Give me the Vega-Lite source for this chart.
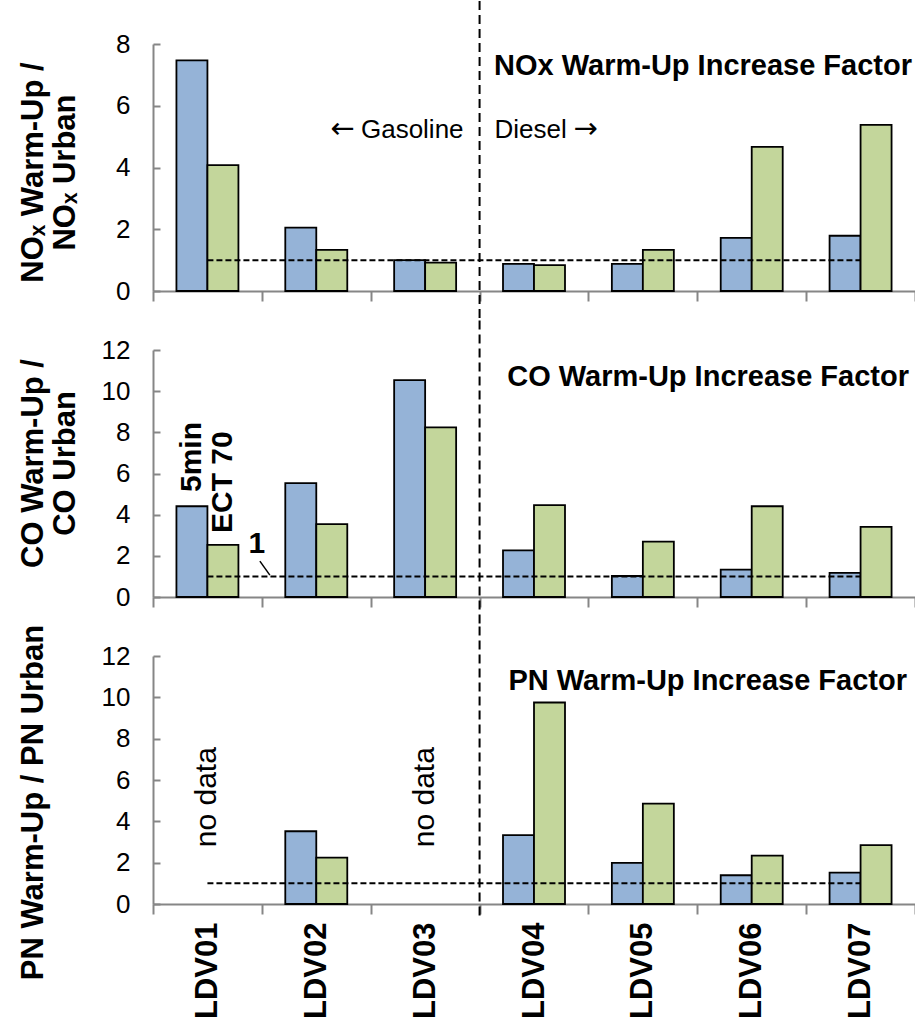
{
  "$schema": "https://vega.github.io/schema/vega-lite/v6.json",
  "padding": {"left": 16, "top": 0, "right": 0, "bottom": 0},
  "background": "#ffffff",
  "datasets": {
    "bars": [
      {"panel": "NOx", "ldv": "LDV01", "cond": "5min", "v": 7.47},
      {"panel": "NOx", "ldv": "LDV01", "cond": "ECT 70", "v": 4.08},
      {"panel": "NOx", "ldv": "LDV02", "cond": "5min", "v": 2.05},
      {"panel": "NOx", "ldv": "LDV02", "cond": "ECT 70", "v": 1.33},
      {"panel": "NOx", "ldv": "LDV03", "cond": "5min", "v": 1.0},
      {"panel": "NOx", "ldv": "LDV03", "cond": "ECT 70", "v": 0.92},
      {"panel": "NOx", "ldv": "LDV04", "cond": "5min", "v": 0.88},
      {"panel": "NOx", "ldv": "LDV04", "cond": "ECT 70", "v": 0.84},
      {"panel": "NOx", "ldv": "LDV05", "cond": "5min", "v": 0.88},
      {"panel": "NOx", "ldv": "LDV05", "cond": "ECT 70", "v": 1.33},
      {"panel": "NOx", "ldv": "LDV06", "cond": "5min", "v": 1.72},
      {"panel": "NOx", "ldv": "LDV06", "cond": "ECT 70", "v": 4.67},
      {"panel": "NOx", "ldv": "LDV07", "cond": "5min", "v": 1.79},
      {"panel": "NOx", "ldv": "LDV07", "cond": "ECT 70", "v": 5.38},
      {"panel": "CO", "ldv": "LDV01", "cond": "5min", "v": 4.41},
      {"panel": "CO", "ldv": "LDV01", "cond": "ECT 70", "v": 2.53},
      {"panel": "CO", "ldv": "LDV02", "cond": "5min", "v": 5.53},
      {"panel": "CO", "ldv": "LDV02", "cond": "ECT 70", "v": 3.54},
      {"panel": "CO", "ldv": "LDV03", "cond": "5min", "v": 10.54},
      {"panel": "CO", "ldv": "LDV03", "cond": "ECT 70", "v": 8.24},
      {"panel": "CO", "ldv": "LDV04", "cond": "5min", "v": 2.27},
      {"panel": "CO", "ldv": "LDV04", "cond": "ECT 70", "v": 4.46},
      {"panel": "CO", "ldv": "LDV05", "cond": "5min", "v": 1.02},
      {"panel": "CO", "ldv": "LDV05", "cond": "ECT 70", "v": 2.69},
      {"panel": "CO", "ldv": "LDV06", "cond": "5min", "v": 1.33},
      {"panel": "CO", "ldv": "LDV06", "cond": "ECT 70", "v": 4.41},
      {"panel": "CO", "ldv": "LDV07", "cond": "5min", "v": 1.17},
      {"panel": "CO", "ldv": "LDV07", "cond": "ECT 70", "v": 3.41},
      {"panel": "PN", "ldv": "LDV02", "cond": "5min", "v": 3.52},
      {"panel": "PN", "ldv": "LDV02", "cond": "ECT 70", "v": 2.24},
      {"panel": "PN", "ldv": "LDV04", "cond": "5min", "v": 3.33},
      {"panel": "PN", "ldv": "LDV04", "cond": "ECT 70", "v": 9.75},
      {"panel": "PN", "ldv": "LDV05", "cond": "5min", "v": 1.99},
      {"panel": "PN", "ldv": "LDV05", "cond": "ECT 70", "v": 4.86},
      {"panel": "PN", "ldv": "LDV06", "cond": "5min", "v": 1.39},
      {"panel": "PN", "ldv": "LDV06", "cond": "ECT 70", "v": 2.34},
      {"panel": "PN", "ldv": "LDV07", "cond": "5min", "v": 1.52},
      {"panel": "PN", "ldv": "LDV07", "cond": "ECT 70", "v": 2.85}
    ]
  },
  "spacing": 59,
  "bounds": "flush",
  "vconcat": [
    {
      "width": 762,
      "height": 247,
      "layer": [
        {
          "data": {"name": "bars"},
          "transform": [{"filter": "datum.panel === 'NOx'"}],
          "mark": {"type": "bar", "stroke": "#000000", "strokeWidth": 1.8},
          "encoding": {
            "x": {"field": "ldv", "type": "nominal", "scale": {"domain": ["LDV01", "LDV02", "LDV03", "LDV04", "LDV05", "LDV06", "LDV07"], "paddingInner": 0, "paddingOuter": 0}, "axis": {"title": null, "labels": false, "tickBand": "extent", "tickSize": 10}},
            "xOffset": {"field": "cond", "type": "nominal", "scale": {"domain": ["5min", "ECT 70"], "paddingInner": 0, "paddingOuter": 0.756}},
            "y": {"field": "v", "type": "quantitative", "scale": {"domain": [0, 8], "nice": false}, "axis": {"title": ["NOₓ Warm-Up /", "NOₓ Urban"], "values": [0, 2, 4, 6, 8], "tickSize": -7, "labelPadding": 30, "titleX": -135, "titleY": 128, "titleAngle": 270, "titleAlign": "center", "titleBaseline": "top", "titleLineHeight": 32}},
            "color": {"field": "cond", "type": "nominal", "scale": {"domain": ["5min", "ECT 70"], "range": ["#95B3D7", "#C3D69B"]}, "legend": null}
          }
        },
        {
          "data": {"values": [{"ldv": "LDV01", "ldv2": "LDV07", "v": 1}]},
          "mark": {"type": "rule", "strokeDash": [6, 3], "strokeWidth": 2, "color": "#000000"},
          "encoding": {"x": {"field": "ldv", "type": "nominal", "bandPosition": 0.5}, "x2": {"field": "ldv2", "bandPosition": 0.5}, "y": {"field": "v", "type": "quantitative"}}
        },
        {
          "data": {"values": [{"ldv": "LDV04", "v": 9.39, "v2": -0.96}]},
          "mark": {"type": "rule", "strokeDash": [9, 5], "strokeWidth": 2, "color": "#000000"},
          "encoding": {"x": {"field": "ldv", "type": "nominal", "bandPosition": 0}, "y": {"field": "v", "type": "quantitative"}, "y2": {"field": "v2"}}
        },
        {
          "data": {"values": [{"ldv": "LDV07", "v": 7.0, "label": "NOx Warm-Up Increase Factor"}]},
          "mark": {"type": "text", "align": "right", "baseline": "alphabetic", "fontSize": 29, "fontWeight": "bold", "dx": -3},
          "encoding": {"x": {"field": "ldv", "type": "nominal", "bandPosition": 1}, "y": {"field": "v", "type": "quantitative"}, "text": {"field": "label"}}
        },
        {
          "data": {"values": [{"ldv": "LDV04", "v": 4.97, "label": "Gasoline"}]},
          "mark": {"type": "text", "align": "right", "baseline": "alphabetic", "fontSize": 26, "dx": -16},
          "encoding": {"x": {"field": "ldv", "type": "nominal", "bandPosition": 0}, "y": {"field": "v", "type": "quantitative"}, "text": {"field": "label"}}
        },
        {
          "data": {"values": [{"ldv": "LDV04", "v": 4.97, "label": "←"}]},
          "mark": {"type": "text", "align": "right", "baseline": "alphabetic", "font": "DejaVu Sans", "fontSize": 29, "dx": -125},
          "encoding": {"x": {"field": "ldv", "type": "nominal", "bandPosition": 0}, "y": {"field": "v", "type": "quantitative"}, "text": {"field": "label"}}
        },
        {
          "data": {"values": [{"ldv": "LDV04", "v": 4.97, "label": "Diesel"}]},
          "mark": {"type": "text", "align": "left", "baseline": "alphabetic", "fontSize": 26, "dx": 15},
          "encoding": {"x": {"field": "ldv", "type": "nominal", "bandPosition": 0}, "y": {"field": "v", "type": "quantitative"}, "text": {"field": "label"}}
        },
        {
          "data": {"values": [{"ldv": "LDV04", "v": 4.97, "label": "→"}]},
          "mark": {"type": "text", "align": "left", "baseline": "alphabetic", "font": "DejaVu Sans", "fontSize": 29, "dx": 94},
          "encoding": {"x": {"field": "ldv", "type": "nominal", "bandPosition": 0}, "y": {"field": "v", "type": "quantitative"}, "text": {"field": "label"}}
        }
      ]
    },
    {
      "width": 762,
      "height": 247,
      "layer": [
        {
          "data": {"name": "bars"},
          "transform": [{"filter": "datum.panel === 'CO'"}],
          "mark": {"type": "bar", "stroke": "#000000", "strokeWidth": 1.8},
          "encoding": {
            "x": {"field": "ldv", "type": "nominal", "scale": {"domain": ["LDV01", "LDV02", "LDV03", "LDV04", "LDV05", "LDV06", "LDV07"], "paddingInner": 0, "paddingOuter": 0}, "axis": {"title": null, "labels": false, "tickBand": "extent", "tickSize": 10}},
            "xOffset": {"field": "cond", "type": "nominal", "scale": {"domain": ["5min", "ECT 70"], "paddingInner": 0, "paddingOuter": 0.756}},
            "y": {"field": "v", "type": "quantitative", "scale": {"domain": [0, 12], "nice": false}, "axis": {"title": ["CO Warm-Up /", "CO Urban"], "values": [0, 2, 4, 6, 8, 10, 12], "tickSize": -7, "labelPadding": 30, "titleX": -135, "titleY": 113, "titleAngle": 270, "titleAlign": "center", "titleBaseline": "top", "titleLineHeight": 32}},
            "color": {"field": "cond", "type": "nominal", "scale": {"domain": ["5min", "ECT 70"], "range": ["#95B3D7", "#C3D69B"]}, "legend": null}
          }
        },
        {
          "data": {"values": [{"ldv": "LDV01", "ldv2": "LDV07", "v": 1}]},
          "mark": {"type": "rule", "strokeDash": [6, 3], "strokeWidth": 2, "color": "#000000"},
          "encoding": {"x": {"field": "ldv", "type": "nominal", "bandPosition": 0.5}, "x2": {"field": "ldv2", "bandPosition": 0.5}, "y": {"field": "v", "type": "quantitative"}}
        },
        {
          "data": {"values": [{"ldv": "LDV04", "v": 13.43, "v2": -1.43}]},
          "mark": {"type": "rule", "strokeDash": [9, 5], "strokeWidth": 2, "color": "#000000"},
          "encoding": {"x": {"field": "ldv", "type": "nominal", "bandPosition": 0}, "y": {"field": "v", "type": "quantitative"}, "y2": {"field": "v2"}}
        },
        {
          "data": {"values": [{"ldv": "LDV02", "ldv2": "LDV02", "v": 1.74, "v2": 1.06}]},
          "mark": {"type": "rule", "strokeWidth": 1.5, "color": "#000000", "xOffset": -2, "x2Offset": 8},
          "encoding": {"x": {"field": "ldv", "type": "nominal", "bandPosition": 0}, "x2": {"field": "ldv2", "bandPosition": 0}, "y": {"field": "v", "type": "quantitative"}, "y2": {"field": "v2"}}
        },
        {
          "data": {"values": [{"ldv": "LDV02", "v": 2.56, "label": "1"}]},
          "mark": {"type": "text", "align": "center", "baseline": "middle", "fontSize": 30, "fontWeight": "bold", "dx": -5},
          "encoding": {"x": {"field": "ldv", "type": "nominal", "bandPosition": 0}, "y": {"field": "v", "type": "quantitative"}, "text": {"field": "label"}}
        },
        {
          "data": {"values": [{"ldv": "LDV01", "cond": "5min", "v": 6.8, "label": "5min"}, {"ldv": "LDV01", "cond": "ECT 70", "v": 5.58, "label": "ECT 70"}]},
          "mark": {"type": "text", "align": "center", "baseline": "middle", "angle": 270, "fontSize": 30, "fontWeight": "bold"},
          "encoding": {"x": {"field": "ldv", "type": "nominal"}, "xOffset": {"field": "cond", "type": "nominal"}, "y": {"field": "v", "type": "quantitative"}, "text": {"field": "label"}}
        },
        {
          "data": {"values": [{"ldv": "LDV07", "v": 10.26, "label": "CO Warm-Up Increase Factor"}]},
          "mark": {"type": "text", "align": "right", "baseline": "alphabetic", "fontSize": 29, "fontWeight": "bold", "dx": -6},
          "encoding": {"x": {"field": "ldv", "type": "nominal", "bandPosition": 1}, "y": {"field": "v", "type": "quantitative"}, "text": {"field": "label"}}
        }
      ]
    },
    {
      "width": 762,
      "height": 248,
      "layer": [
        {
          "data": {"name": "bars"},
          "transform": [{"filter": "datum.panel === 'PN'"}],
          "mark": {"type": "bar", "stroke": "#000000", "strokeWidth": 1.8},
          "encoding": {
            "x": {"field": "ldv", "type": "nominal", "scale": {"domain": ["LDV01", "LDV02", "LDV03", "LDV04", "LDV05", "LDV06", "LDV07"], "paddingInner": 0, "paddingOuter": 0}, "axis": {"title": null, "labelAngle": 270, "labelAlign": "right", "labelBaseline": "middle", "labelFontSize": 31, "labelFontWeight": "bold", "labelPadding": 8, "tickBand": "extent", "tickSize": 10}},
            "xOffset": {"field": "cond", "type": "nominal", "scale": {"domain": ["5min", "ECT 70"], "paddingInner": 0, "paddingOuter": 0.756}},
            "y": {"field": "v", "type": "quantitative", "scale": {"domain": [0, 12], "nice": false}, "axis": {"title": "PN Warm-Up / PN Urban", "values": [0, 2, 4, 6, 8, 10, 12], "tickSize": -7, "labelPadding": 30, "titleX": -135, "titleY": 146, "titleAngle": 270, "titleAlign": "center", "titleBaseline": "top", "titleLineHeight": 32}},
            "color": {"field": "cond", "type": "nominal", "scale": {"domain": ["5min", "ECT 70"], "range": ["#95B3D7", "#C3D69B"]}, "legend": null}
          }
        },
        {
          "data": {"values": [{"ldv": "LDV01", "ldv2": "LDV07", "v": 1}]},
          "mark": {"type": "rule", "strokeDash": [6, 3], "strokeWidth": 2, "color": "#000000"},
          "encoding": {"x": {"field": "ldv", "type": "nominal", "bandPosition": 0.5}, "x2": {"field": "ldv2", "bandPosition": 0.5}, "y": {"field": "v", "type": "quantitative"}}
        },
        {
          "data": {"values": [{"ldv": "LDV04", "v": 13.43, "v2": -0.73}]},
          "mark": {"type": "rule", "strokeDash": [9, 5], "strokeWidth": 2, "color": "#000000"},
          "encoding": {"x": {"field": "ldv", "type": "nominal", "bandPosition": 0}, "y": {"field": "v", "type": "quantitative"}, "y2": {"field": "v2"}}
        },
        {
          "data": {"values": [{"ldv": "LDV01", "v": 5.17, "label": "no data"}, {"ldv": "LDV03", "v": 5.17, "label": "no data"}]},
          "mark": {"type": "text", "align": "center", "baseline": "middle", "angle": 270, "fontSize": 30},
          "encoding": {"x": {"field": "ldv", "type": "nominal"}, "y": {"field": "v", "type": "quantitative"}, "text": {"field": "label"}}
        },
        {
          "data": {"values": [{"ldv": "LDV07", "v": 10.34, "label": "PN  Warm-Up Increase Factor"}]},
          "mark": {"type": "text", "align": "right", "baseline": "alphabetic", "fontSize": 29, "fontWeight": "bold", "dx": -8},
          "encoding": {"x": {"field": "ldv", "type": "nominal", "bandPosition": 1}, "y": {"field": "v", "type": "quantitative"}, "text": {"field": "label"}}
        }
      ]
    }
  ],
  "config": {
    "view": {"stroke": null},
    "axis": {"grid": false, "domainColor": "#868686", "domainWidth": 2, "tickColor": "#868686", "tickWidth": 2, "labelFont": "Liberation Sans", "labelFontSize": 26, "labelColor": "#000000", "titleFont": "Liberation Sans", "titleFontSize": 31, "titleFontWeight": "bold", "titleColor": "#000000"},
    "text": {"font": "Liberation Sans", "color": "#000000"}
  }
}
